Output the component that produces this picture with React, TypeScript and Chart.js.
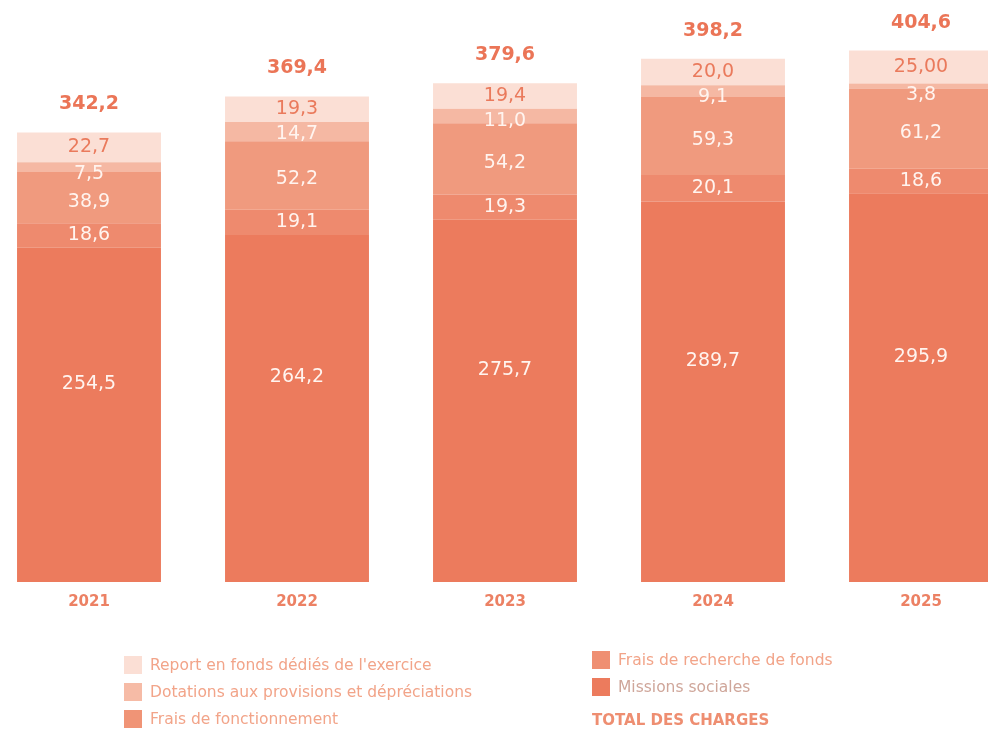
import React, { useEffect, useRef } from "react";
import { Chart, registerables } from "chart.js";

Chart.register(...registerables);

const years = ["2021", "2022", "2023", "2024", "2025"];
const missionsSociales = [254.5, 264.2, 275.7, 289.7, 295.9];
const fraisRecherche = [18.6, 19.1, 19.3, 20.1, 18.6];
const fraisFonctionnement = [38.9, 52.2, 54.2, 59.3, 61.2];
const dotations = [7.5, 14.7, 11.0, 9.1, 3.8];
const reportFonds = [22.7, 19.3, 19.4, 20.0, 25.0];
const reportLabels = ["22,7", "19,3", "19,4", "20,0", "25,00"];
const totalCharges = [342.2, 369.4, 379.6, 398.2, 404.6];

const COLORS = {
  missions: "#EC7B5D",
  recherche: "#EE8A6E",
  fonctionnement: "#F09A7E",
  dotations: "#F5B8A3",
  report: "#FBDFD5",
};

const fmt = (v: number) => v.toFixed(1).replace(".", ",");
const FONT = "'DejaVu Sans', sans-serif";

const labelPlugin = {
  id: "labelPlugin",
  afterDatasetsDraw(chart: any) {
    const ctx = chart.ctx;
    ctx.save();
    ctx.textAlign = "center";
    ctx.textBaseline = "middle";
    const n = chart.data.datasets.length;
    for (let d = 0; d < n; d++) {
      const meta = chart.getDatasetMeta(d);
      const ds = chart.data.datasets[d];
      meta.data.forEach((el: any, i: number) => {
        const top = el.y;
        const bottom = el.base;
        const center = (top + bottom) / 2;
        let y = center;
        let text = fmt(ds.data[i]);
        let color = "#FFF4EF";
        if (d === 0) y = center - 31;
        if (d === 2) y = center + 4;
        if (d === 3) y = top + 12;
        if (d === 4) {
          text = reportLabels[i];
          color = "#EA7A5C";
        }
        ctx.font = `19px ${FONT}`;
        ctx.fillStyle = color;
        ctx.fillText(text, el.x, y);
        if (d === n - 1) {
          ctx.font = `bold 19px ${FONT}`;
          ctx.fillStyle = "#EB7557";
          ctx.fillText(fmt(totalCharges[i]), el.x, top - 28);
          ctx.font = `bold 15px ${FONT}`;
          ctx.fillStyle = "#EC8164";
          ctx.fillText(years[i], el.x, chart.chartArea.bottom + 20);
        }
      });
    }
    ctx.restore();
  },
};

const legendLeft = [
  { label: "Report en fonds dédiés de l'exercice", color: COLORS.report, y: 665 },
  { label: "Dotations aux provisions et dépréciations", color: "#F6BBA6", y: 692 },
  { label: "Frais de fonctionnement", color: "#F09476", y: 719 },
];
const legendRight = [
  { label: "Frais de recherche de fonds", color: "#EF8F72", y: 660, text: "#F2A489" },
  { label: "Missions sociales", color: COLORS.missions, y: 687, text: "#CFA69A" },
];

export default function App() {
  const ref = useRef<HTMLCanvasElement>(null);
  useEffect(() => {
    if (!ref.current) return;
    const mk = (label: string, data: number[], color: string) => ({
      label,
      data,
      backgroundColor: color,
      borderWidth: 0,
      barPercentage: 0.692,
      categoryPercentage: 1,
      stack: "s",
    });
    const chart = new Chart(ref.current, {
      type: "bar",
      data: {
        labels: years,
        datasets: [
          mk("Missions sociales", missionsSociales, COLORS.missions),
          mk("Frais de recherche de fonds", fraisRecherche, COLORS.recherche),
          mk("Frais de fonctionnement", fraisFonctionnement, COLORS.fonctionnement),
          mk("Dotations aux provisions et dépréciations", dotations, COLORS.dotations),
          mk("Report en fonds dédiés de l'exercice", reportFonds, COLORS.report),
        ],
      },
      options: {
        animation: false,
        responsive: false,
        devicePixelRatio: 1,
        layout: { padding: { top: 0, bottom: 148, left: 0, right: 0 } },
        scales: {
          x: { stacked: true, display: false, offset: true },
          y: { stacked: true, display: false, min: 0, max: 443 },
        },
        plugins: { legend: { display: false }, tooltip: { enabled: false } },
      },
      plugins: [labelPlugin],
    });
    return () => chart.destroy();
  }, []);

  const item = (it: any, x: number, key: string) => (
    <div
      key={key}
      style={{
        position: "absolute",
        left: x,
        top: it.y - 10,
        height: 20,
        display: "flex",
        alignItems: "center",
        whiteSpace: "nowrap",
      }}
    >
      <div style={{ width: 18, height: 18, background: it.color, marginRight: 8 }} />
      <span style={{ font: `15.5px ${FONT}`, color: it.text || "#F2A489" }}>{it.label}</span>
    </div>
  );

  return (
    <div
      style={{
        position: "fixed",
        left: 0,
        top: 0,
        width: 988,
        height: 730,
        overflow: "hidden",
        background: "#fff",
      }}
    >
      <canvas
        ref={ref}
        width={1040}
        height={730}
        style={{ position: "absolute", left: -15, top: 0, width: 1040, height: 730 }}
      />
      {legendLeft.map((it, i) => item(it, 124, "l" + i))}
      {legendRight.map((it, i) => item(it, 592, "r" + i))}
      <div
        style={{
          position: "absolute",
          left: 592,
          top: 710,
          height: 20,
          display: "flex",
          alignItems: "center",
          whiteSpace: "nowrap",
          font: `bold 15px ${FONT}`,
          color: "#EE8E71",
        }}
      >
        TOTAL DES CHARGES
      </div>
    </div>
  );
}
